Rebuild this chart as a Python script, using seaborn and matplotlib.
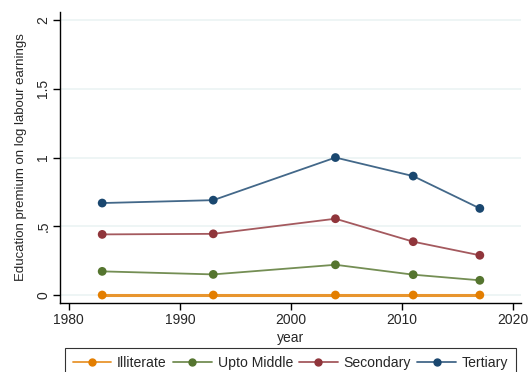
import matplotlib
matplotlib.use("Agg")
import matplotlib.pyplot as plt
from matplotlib.lines import Line2D
import matplotlib.colors as mcolors
import seaborn as sns
import pandas as pd

years = [1983, 1993, 2004, 2011, 2017]
illiterate = [0.0, 0.0, 0.0, 0.0, 0.0]
upto_middle = [0.172, 0.150, 0.220, 0.148, 0.107]
secondary = [0.441, 0.445, 0.555, 0.388, 0.289]
tertiary = [0.669, 0.690, 1.000, 0.865, 0.630]

levels = ["Illiterate", "Upto Middle", "Secondary", "Tertiary"]
colors = ["#e37e00", "#55752f", "#90353b", "#1a476f"]

df = pd.DataFrame({
    "year": years * 4,
    "premium": illiterate + upto_middle + secondary + tertiary,
    "level": sum([[lv] * len(years) for lv in levels], []),
})

sns.set_style("white")
plt.rcParams["font.family"] = ["Liberation Sans", "DejaVu Sans"]

fig = plt.figure(figsize=(5.28, 3.72), dpi=100)
ax = fig.add_axes([0.1136, 0.1855, 0.873, 0.782])

palette = dict(zip(levels, colors))
# connecting lines are drawn a touch lighter than the markers
line_pal = {k: mcolors.to_hex([0.82 * c + 0.18 for c in mcolors.to_rgb(v)])
            for k, v in palette.items()}

for y in [0, 0.5, 1, 1.5, 2]:
    ax.axhline(y, color="#eaf2f3", lw=1.1, zorder=0)

sns.lineplot(data=df, x="year", y="premium", hue="level", palette=line_pal,
             hue_order=levels, ax=ax, legend=False, linewidth=1.3)
for ln in ax.get_lines():
    if mcolors.to_hex(ln.get_color()) == line_pal["Illiterate"]:
        ln.set_linewidth(2.2)
sns.scatterplot(data=df, x="year", y="premium", hue="level", palette=palette,
                hue_order=levels, ax=ax, legend=False, s=40, edgecolor="none", zorder=3)

ax.set_xlim(1979.2, 2020.7)
ax.set_ylim(-0.058, 2.058)
ax.set_xticks([1980, 1990, 2000, 2010, 2020])
ax.set_yticks([0, 0.5, 1, 1.5, 2])
ax.set_yticklabels(["0", ".5", "1", "1.5", "2"], rotation=90, va="center")
ax.tick_params(axis="both", length=5, width=1, color="black", labelsize=10, direction="out",
               bottom=True, left=True, pad=2)
ax.set_xlabel("year", fontsize=10, labelpad=3)
ax.set_ylabel("Education premium on log labour earnings", fontsize=9.5, labelpad=7)
for s in ["top", "right"]:
    ax.spines[s].set_visible(False)
for s in ["left", "bottom"]:
    ax.spines[s].set_color("black")
    ax.spines[s].set_linewidth(1)

handles = [Line2D([0], [0], color=line_pal[lv], lw=1.3, marker="o", markersize=5,
                  markerfacecolor=palette[lv], markeredgecolor=palette[lv]) for lv in levels]
leg = fig.legend(handles, levels, loc="upper left", bbox_to_anchor=(65 / 528, 1 - 348 / 372),
                 borderaxespad=0, ncol=4, frameon=True, fancybox=False, fontsize=10.1,
                 handlelength=2.75, columnspacing=0.45, handletextpad=0.42, borderpad=0.55)
leg.get_frame().set_edgecolor("black")
leg.get_frame().set_linewidth(0.8)

fig.savefig("out.png", dpi=100)
